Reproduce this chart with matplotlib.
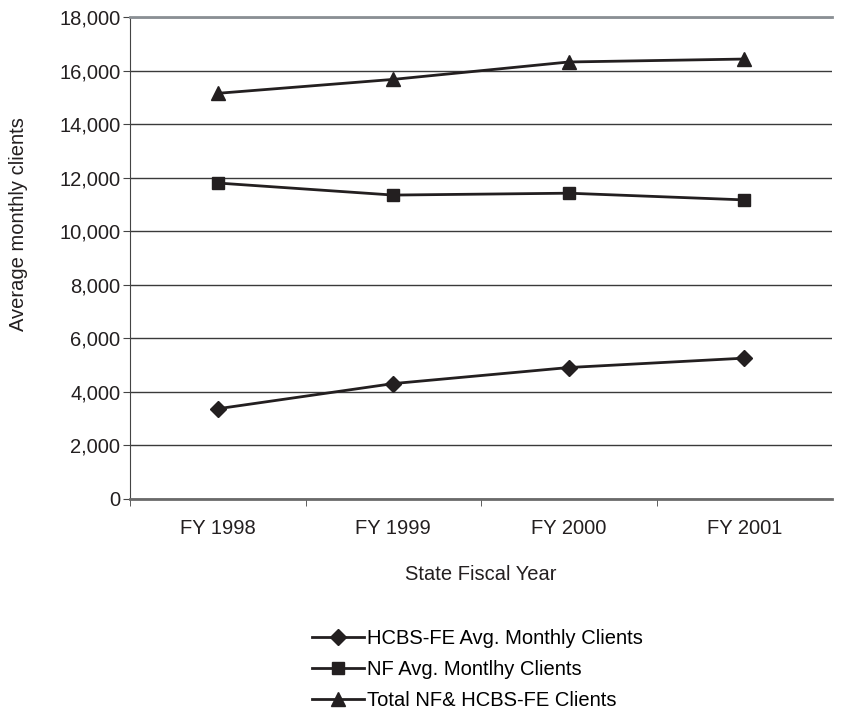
import matplotlib
matplotlib.use("Agg")
import matplotlib.pyplot as plt
from matplotlib.ticker import FuncFormatter, FixedLocator

plt.rcParams['font.family'] = ['Liberation Sans', 'DejaVu Sans']

years = ["FY 1998", "FY 1999", "FY 2000", "FY 2001"]
hcbs = [3370, 4310, 4910, 5260]
nf = [11800, 11350, 11420, 11170]
total = [15150, 15670, 16320, 16430]
series_labels = ["HCBS-FE Avg. Monthly Clients", "NF Avg. Montlhy Clients", "Total NF& HCBS-FE Clients"]

FS = 14.5
fig = plt.figure(figsize=(8.43, 7.12), dpi=100)
ax = fig.add_axes([130/843, 1 - 499/712, (832-130)/843, (499-17)/712])

x = list(range(len(years)))
col = '#231f20'
l1, = ax.plot(x, hcbs, color=col, lw=2, marker='D', markersize=8, label=series_labels[0])
l2, = ax.plot(x, nf, color=col, lw=2, marker='s', markersize=9, label=series_labels[1])
l3, = ax.plot(x, total, color=col, lw=2, marker='^', markersize=10, label=series_labels[2])

ax.set_xlim(-0.5, 3.5)
ax.set_ylim(0, 18000)
ax.set_yticks(range(0, 18001, 2000))
ax.yaxis.set_major_formatter(FuncFormatter(lambda v, p: f"{int(v):,}"))
ax.yaxis.grid(True, color='#3a3a3a', lw=1)
ax.set_axisbelow(True)

ax.set_xticks(x)
ax.set_xticklabels(years)
ax.xaxis.set_minor_locator(FixedLocator([-0.5, 0.5, 1.5, 2.5]))
ax.tick_params(axis='x', which='major', length=0, pad=14.5, labelsize=FS, colors='#231f20')
ax.tick_params(axis='x', which='minor', length=5, direction='out', color='#444444')
ax.tick_params(axis='y', length=5, direction='out', labelsize=FS, color='#444444',
               labelcolor='#231f20', pad=2)

ax.spines['right'].set_visible(False)
ax.spines['top'].set_color('#8a8f94')
ax.spines['top'].set_linewidth(2)
ax.spines['left'].set_color('#444444')
ax.spines['bottom'].set_color('#6a6a6a')
ax.spines['bottom'].set_linewidth(2)

ax.set_xlabel("State Fiscal Year", fontsize=FS, color='#231f20')
ax.xaxis.set_label_coords(0.5, 1 - (574 - 17) / 482)
ax.xaxis.label.set_va('center')
ax.set_ylabel("Average monthly clients", fontsize=FS, color='#231f20')
ax.yaxis.set_label_coords((18 - 130) / 702, (499 - 224) / 482)
ax.yaxis.label.set_va('center')

fig.legend(handles=[l1, l2, l3], loc='upper left', bbox_to_anchor=(312/843, 1 - 629/712),
           frameon=False, fontsize=FS, handlelength=2.6, handletextpad=0.15,
           labelspacing=0.6, borderpad=0, borderaxespad=0)

fig.savefig("out.png", dpi=100)
